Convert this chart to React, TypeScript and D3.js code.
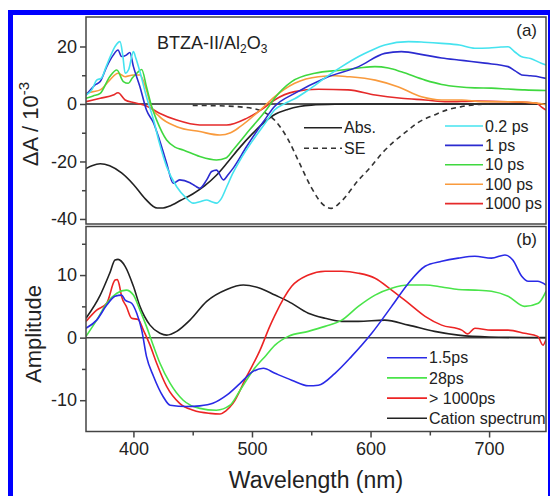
import React, { useEffect, useRef } from "react";
import * as d3 from "d3";

type Pt = [number, number];

// axis ticks
const xTicks = [400, 500, 600, 700];
const xMinorTicks = [450, 550, 650];
const topTicks = [-40, -20, 0, 20];
const topMinorTicks = [-30, -10, 10];
const bottomTicks = [-10, 0, 10];
const bottomMinorTicks = [-5, 5, 15];

// panel (a): steady-state spectra
const absSpectrum: Pt[] = [
    [360, -22.5], [365, -21.5], [372, -20.8], [380, -21.5], [390, -24], [400, -28],
    [410, -33], [420, -36.2], [425, -36.2], [430, -35.6], [440, -33.5], [450, -31.3],
    [460, -28.5], [470, -24.8], [480, -20], [490, -15], [500, -10.5], [510, -6.5],
    [520, -3.5], [530, -1.9], [540, -0.9], [550, -0.4], [570, -0.1], [600, 0], [748, 0],
];
const seSpectrum: Pt[] = [
    [450, -0.5], [470, -0.6], [490, -1.0], [500, -1.5], [510, -2.8], [520, -6],
    [530, -12], [540, -20.5], [550, -29], [560, -35], [567, -36.3], [575, -34],
    [590, -26.4], [600, -22], [610, -17], [620, -13], [632, -9], [640, -6.5],
    [654, -3.8], [665, -2], [677, -0.9], [690, -0.2], [700, 0],
];

// panel (a): transient spectra
const ps02: Pt[] = [
    [360, 3.1], [365, 5], [369, 8.3], [373, 9], [377, 13], [381, 17], [384.5, 20],
    [388.7, 21.7], [391, 17], [393, 10.7], [396, 12], [400, 18.2], [402, 16],
    [405.5, 11.2], [411, 2.5], [417, -5.6], [422, -13.7], [428, -21.8], [436.5, -28.8],
    [444, -32.5], [450.5, -34.5], [456, -34], [461.8, -33.4], [466, -34], [470, -34.5],
    [474, -33], [478.7, -28.8], [484, -24], [490, -19.5], [501, -12.5], [512, -6.2],
    [519, -2.1], [527, 0], [536, 1.8], [548, 5], [561, 8.9], [575, 12.8], [590, 16.5],
    [600, 18.5], [612, 20.5], [632, 21.7], [645, 21.5], [660, 21.1], [675, 20.5],
    [688, 19.4], [700, 19.5], [710, 19.8], [716, 19.9], [722, 18], [727, 16.5],
    [735, 15.8], [744, 14.2], [748, 13.6],
];
const ps1: Pt[] = [
    [360, 3.1], [364, 5], [367.6, 6.6], [372, 7.8], [377.5, 13], [383, 17], [387, 18.8],
    [390, 16.5], [394, 17], [397, 17.9], [400, 13], [405.5, 6], [411, -2.1], [417, -6.6],
    [422, -12.5], [428, -20.6], [433.6, -27.6], [439, -26.4], [447.7, -27.4], [452, -28.5],
    [456, -29.3], [461.8, -26.4], [466, -23.5], [470, -23], [476, -26.4], [480, -24.5],
    [484, -22.4], [495.5, -14.8], [509.6, -6.2], [519, -0.9], [536, 3.7], [561, 8.9],
    [590, 13], [612, 17.6], [626, 18.2], [646, 17], [660, 16], [674, 15.3], [685, 14.8],
    [696.5, 14.2], [716, 13], [722, 11.5], [727.5, 10.1], [735, 9.8], [741.5, 9.5], [748, 8.9],
];
const ps10: Pt[] = [
    [360, 2], [366, 2.8], [372, 3.7], [380, 9.5], [386, 11.8], [391.5, 7.8], [395.7, 7.2],
    [399, 9], [402.8, 10.7], [407, 12], [411, 6], [415.4, -0.9], [419.6, -5.6], [428, -12.5],
    [435, -15], [442, -16], [456, -18.3], [470, -19.5], [478, -18.8], [484, -16], [498, -9],
    [512, -2.1], [519, 2], [533.5, 7.8], [553, 10.7], [575.7, 11.8], [590, 12.5],
    [603.7, 13], [615, 12.5], [626, 11.2], [646, 8.3], [660, 6.8], [674, 6], [688, 5.6],
    [702, 5.5], [716, 5.2], [730, 4.9], [748, 4.7],
];
const ps100: Pt[] = [
    [360, 3.7], [366, 4.3], [372, 4.9], [380, 8.3], [387, 10.7], [393, 9.5], [400, 10.1],
    [405.5, 10.1], [411, 4.9], [415, -0.9], [422, -4.4], [436.5, -7.9], [456, -9.6],
    [473, -10.8], [482, -10], [490, -7.9], [507, -2.1], [519, 2.5], [536, 7.2], [556, 9.5],
    [570, 9.8], [581, 9.5], [604, 8.3], [623, 6], [643, 2.5], [660, 1.4], [677, 1.4],
    [694, 0.8], [716, 0.8], [740, 0.3], [748, -0.3],
];
const ps1000: Pt[] = [
    [360, 0.8], [372, 2], [383, 3.1], [387, 3.9], [393, 1.4], [400, 0.5], [405.5, 0],
    [411, -0.7], [422, -3.2], [436.5, -5.6], [456, -7.3], [478.7, -7.3], [495.5, -5],
    [509.6, -1.5], [519, 1.4], [536, 4.3], [556, 5.1], [581, 4.9], [604, 3.1], [626, 2],
    [646, 1.4], [665, 0.8], [688, 1], [716, 0.8], [740, 0.3], [744, -1], [748, -2.1],
];

// panel (b): decay-associated spectra
const das15: Pt[] = [
    [360, 1.5], [369, 2.8], [377.5, 5.2], [384.5, 6.6], [390, 6.8], [393, 6], [398.5, 5.5],
    [402.8, 3.9], [407, 1.2], [411, -3], [417, -6.2], [425, -9.4], [431, -10.8], [445, -11],
    [456, -10.9], [467, -10.5], [478.7, -9.2], [490, -7.3], [501, -5.4], [509.6, -4.9],
    [519.4, -5.7], [533.5, -6.8], [547.5, -7.7], [556, -7.6], [570, -5.7], [584, -3],
    [601, 0.7], [617.8, 5], [632, 8.7], [646, 11.4], [660, 12.2], [674, 12.7], [688, 13],
    [702, 12.7], [713.4, 13.2], [720, 12.4], [727.5, 9.8], [733, 9], [741, 9], [748, 8.4],
];
const das28: Pt[] = [
    [360, 0.2], [369, 2.8], [377.5, 5.5], [386, 7.1], [394, 7.6], [400, 6.8], [405.5, 4.4],
    [411, 1.8], [417, -1.4], [422.4, -4.1], [431, -7.3], [442, -10], [456, -11.3],
    [470, -11.6], [481.5, -10.8], [490, -8.4], [501, -5.2], [512, -2.8], [519.4, -1.2],
    [530.6, 0.2], [547.5, 1], [561.6, 1.8], [575.7, 2.8], [589.7, 5], [603.8, 6.8],
    [617.8, 7.9], [632, 8.4], [646, 8.4], [660, 8.1], [674, 7.7], [688, 7.6], [702, 7.4],
    [716, 6.6], [730, 5], [741.5, 5.5], [748, 7.4],
];
const dasLong: Pt[] = [
    [360, 2.6], [369, 4.4], [377.5, 5.5], [384.5, 9.2], [386.4, 9.3], [388, 8.5], [390, 6.6],
    [394, 5], [398.5, 3.1], [404, 2.9], [408.4, 1.2], [414, -1.2], [419.6, -4.1], [428, -7.8],
    [439, -10.5], [450.5, -11.6], [464.6, -12.1], [473, -12.2], [478, -11.7], [484, -10.5],
    [495.5, -6.2], [506.8, -2], [515, 1.8], [519.4, 3.6], [533.5, 8.2], [547.5, 10],
    [561.6, 10.6], [575.7, 10.6], [589.7, 10.3], [603.8, 9.5], [617.8, 7.6], [632, 5.5],
    [646, 3.4], [660, 2], [677, 1.2], [682, 0.6], [688, 1.5], [702, 1.2], [716, 1.2],
    [730, 0.7], [741, 0.2], [745.5, -1.2], [748, -0.3],
];
const cation: Pt[] = [
    [360, 3.1], [372, 6.8], [380, 10.3], [384.5, 12.4], [387, 12.5], [393, 11.4], [400, 8.2],
    [405.5, 5], [414, 2], [422.4, 0.7], [428, 0.4], [436.5, 1], [447.7, 2.8], [461.8, 5.8],
    [478.7, 7.7], [492.7, 8.4], [506.8, 7.9], [519.4, 6.8], [530.6, 5.8], [547.5, 3.9],
    [561.6, 3.1], [575.7, 2.6], [589.7, 2.6], [612, 2.8], [632, 2], [654, 1], [674, 0.4],
    [700, 0.1], [748, 0],
];

const topSeries = [
    { label: "0.2 ps", color: "#45e3ef", data: ps02 },
    { label: "1 ps", color: "#2b2bd0", data: ps1 },
    { label: "10 ps", color: "#3fd83f", data: ps10 },
    { label: "100 ps", color: "#f99a3c", data: ps100 },
    { label: "1000 ps", color: "#e52a2a", data: ps1000 },
];
const bottomSeries = [
    { label: "1.5ps", color: "#2a2ae6", data: das15 },
    { label: "28ps", color: "#4ae44a", data: das28 },
    { label: "> 1000ps", color: "#ec2424", data: dasLong },
    { label: "Cation spectrum", color: "#222222", data: cation },
];

const FONT = "'Liberation Sans', Arial, Helvetica, sans-serif";
const TEXT = "#222";
const AXIS = "#444";

function App() {
    const ref = useRef<SVGSVGElement>(null);

    useEffect(() => {
        const svg = d3.select(ref.current);
        svg.selectAll("*").remove();

        const left = 86;
        const right = 546;
        const topY0 = 17;
        const midY = 225;
        const botY1 = 431.5;

        const x = d3.scaleLinear().domain([360, 748]).range([left, right]);
        const yTop = d3.scaleLinear().domain([-42.1, 30.26]).range([midY, topY0]);
        const yBot = d3.scaleLinear().domain([-15, 18]).range([botY1, midY]);

        // blue outer border
        svg.append("rect")
            .attr("x", 10.5).attr("y", 12.5)
            .attr("width", 540).attr("height", 500)
            .attr("fill", "#fff")
            .attr("stroke", "#0000ff")
            .attr("stroke-width", 5);

        const defs = svg.append("defs");
        defs.append("clipPath").attr("id", "clip-top")
            .append("rect").attr("x", left).attr("y", topY0)
            .attr("width", right - left).attr("height", midY - topY0);
        defs.append("clipPath").attr("id", "clip-bot")
            .append("rect").attr("x", left).attr("y", midY)
            .attr("width", right - left).attr("height", botY1 - midY);

        const lineTop = d3.line<Pt>()
            .x((d) => x(d[0]))
            .y((d) => yTop(d[1]))
            .curve(d3.curveMonotoneX);
        const lineBot = d3.line<Pt>()
            .x((d) => x(d[0]))
            .y((d) => yBot(d[1]))
            .curve(d3.curveMonotoneX);

        // zero lines
        svg.append("line")
            .attr("x1", left).attr("x2", right)
            .attr("y1", yTop(0)).attr("y2", yTop(0))
            .attr("stroke", "#222").attr("stroke-width", 1.5);
        svg.append("line")
            .attr("x1", left).attr("x2", right)
            .attr("y1", yBot(0)).attr("y2", yBot(0))
            .attr("stroke", "#444").attr("stroke-width", 1.5);

        // panel (a) curves
        const gTop = svg.append("g").attr("clip-path", "url(#clip-top)");
        gTop.append("path")
            .attr("d", lineTop(absSpectrum))
            .attr("fill", "none").attr("stroke", "#222").attr("stroke-width", 1.6);
        gTop.append("path")
            .attr("d", lineTop(seSpectrum))
            .attr("fill", "none").attr("stroke", "#333").attr("stroke-width", 1.6)
            .attr("stroke-dasharray", "5,4");
        [...topSeries].reverse().forEach((s) => {
            gTop.append("path")
                .attr("d", lineTop(s.data))
                .attr("fill", "none")
                .attr("stroke", s.color)
                .attr("stroke-width", 1.6)
                .attr("stroke-linejoin", "round");
        });

        // panel (b) curves
        const gBot = svg.append("g").attr("clip-path", "url(#clip-bot)");
        [...bottomSeries].reverse().forEach((s) => {
            gBot.append("path")
                .attr("d", lineBot(s.data))
                .attr("fill", "none")
                .attr("stroke", s.color)
                .attr("stroke-width", 1.6)
                .attr("stroke-linejoin", "round");
        });

        // frames
        svg.append("rect")
            .attr("x", left).attr("y", topY0)
            .attr("width", right - left).attr("height", midY - 1 - topY0)
            .attr("fill", "none").attr("stroke", AXIS).attr("stroke-width", 1.5);
        svg.append("rect")
            .attr("x", left).attr("y", midY + 1.5)
            .attr("width", right - left).attr("height", botY1 - midY - 1.5)
            .attr("fill", "none").attr("stroke", AXIS).attr("stroke-width", 1.5);

        // y axes
        const styleAxis = (g: d3.Selection<SVGGElement, unknown, null, undefined>) => {
            g.select(".domain").remove();
            g.selectAll("line").attr("stroke", AXIS).attr("stroke-width", 1.5);
            g.selectAll("text")
                .attr("fill", TEXT)
                .style("font-family", FONT)
                .style("font-size", "18px");
        };

        const axTop = svg.append("g").attr("transform", `translate(${left},0)`)
            .call(d3.axisLeft(yTop).tickValues(topTicks).tickSize(6).tickPadding(3)
                .tickFormat((d) => String(d)));
        styleAxis(axTop);
        svg.append("g").attr("transform", `translate(${left},0)`)
            .call(d3.axisLeft(yTop).tickValues(topMinorTicks).tickSize(4).tickFormat(() => ""))
            .call(styleAxis);

        const axBot = svg.append("g").attr("transform", `translate(${left},0)`)
            .call(d3.axisLeft(yBot).tickValues(bottomTicks).tickSize(6).tickPadding(3)
                .tickFormat((d) => String(d)));
        styleAxis(axBot);
        svg.append("g").attr("transform", `translate(${left},0)`)
            .call(d3.axisLeft(yBot).tickValues(bottomMinorTicks).tickSize(4).tickFormat(() => ""))
            .call(styleAxis);

        // x axis
        const axX = svg.append("g").attr("transform", `translate(0,${botY1})`)
            .call(d3.axisBottom(x).tickValues(xTicks).tickSize(6).tickPadding(5)
                .tickFormat((d) => String(d)));
        styleAxis(axX);
        svg.append("g").attr("transform", `translate(0,${botY1})`)
            .call(d3.axisBottom(x).tickValues(xMinorTicks).tickSize(4).tickFormat(() => ""))
            .call(styleAxis);

        // axis titles
        const yt = svg.append("text")
            .attr("transform", "translate(38,124) rotate(-90)")
            .attr("text-anchor", "middle")
            .style("font-family", FONT)
            .style("font-size", "22px")
            .attr("fill", TEXT);
        yt.append("tspan").text("ΔA / 10");
        yt.append("tspan").attr("dy", -9).style("font-size", "15px").text("-3");

        svg.append("text")
            .attr("transform", "translate(41,334) rotate(-90)")
            .attr("text-anchor", "middle")
            .style("font-family", FONT)
            .style("font-size", "22px")
            .attr("fill", TEXT)
            .text("Amplitude");

        svg.append("text")
            .attr("x", (left + right) / 2).attr("y", 488)
            .attr("text-anchor", "middle")
            .style("font-family", FONT)
            .style("font-size", "23px")
            .attr("fill", TEXT)
            .text("Wavelength (nm)");

        // sample label
        const st = svg.append("text")
            .attr("x", 157).attr("y", 49)
            .style("font-family", FONT)
            .style("font-size", "18px")
            .attr("fill", TEXT);
        st.append("tspan").text("BTZA-II/Al");
        st.append("tspan").attr("dy", 4).style("font-size", "12px").text("2");
        st.append("tspan").attr("dy", -4).text("O");
        st.append("tspan").attr("dy", 4).style("font-size", "12px").text("3");

        // panel labels
        svg.append("text")
            .attr("x", 537).attr("y", 36)
            .attr("text-anchor", "end")
            .style("font-family", FONT).style("font-size", "17px")
            .attr("fill", TEXT).text("(a)");
        svg.append("text")
            .attr("x", 537).attr("y", 245)
            .attr("text-anchor", "end")
            .style("font-family", FONT).style("font-size", "17px")
            .attr("fill", TEXT).text("(b)");

        // legends
        const legendRow = (
            x1: number, x2: number, y: number, color: string, label: string, dash?: string
        ) => {
            const l = svg.append("line")
                .attr("x1", x1).attr("x2", x2)
                .attr("y1", y).attr("y2", y)
                .attr("stroke", color).attr("stroke-width", 1.6);
            if (dash) l.attr("stroke-dasharray", dash);
            svg.append("text")
                .attr("x", x2 + 2).attr("y", y).attr("dy", "0.35em")
                .style("font-family", FONT).style("font-size", "16px")
                .attr("fill", TEXT).text(label);
        };

        legendRow(304, 342, 127.7, "#222", "Abs.");
        legendRow(304, 342, 148.3, "#333", "SE", "5,4");
        topSeries.forEach((s, i) => legendRow(445, 483, 126 + i * 19.4, s.color, s.label));
        bottomSeries.forEach((s, i) => legendRow(387, 427, 357.7 + i * 20.2, s.color, s.label));
    }, []);

    return (
        <svg
            ref={ref}
            width={550}
            height={496}
            style={{ position: "absolute", left: 0, top: 0, background: "#fff" }}
        />
    );
}

export default App;
